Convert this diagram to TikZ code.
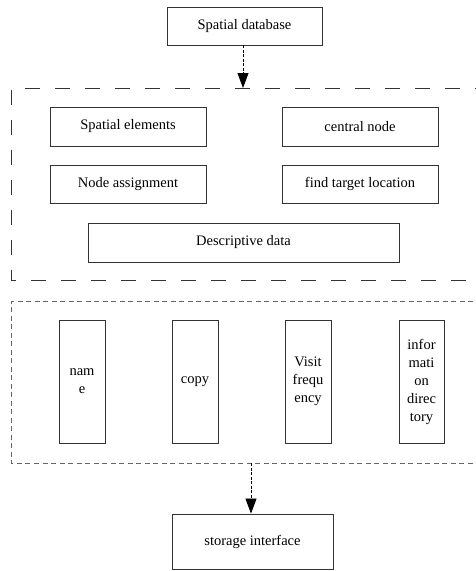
\documentclass[tikz,border=0pt]{standalone}
\usepackage{fontspec}
\setmainfont{Liberation Serif}
\usetikzlibrary{arrows.meta}
\begin{document}
\begin{tikzpicture}[x=1pt,y=-1pt,
  box/.style={draw=black!80,line width=0.9pt,fill=white,inner sep=0pt,font=\fontsize{14.5}{18}\selectfont,align=center},
  bigdash/.style={draw=black!80,line width=0.9pt,dash pattern=on 15pt off 15pt},
  smalldash/.style={draw=black!60,line width=0.9pt,dash pattern=on 5pt off 3.5pt},
  link/.style={draw=black,line width=0.8pt,dash pattern=on 3pt off 1.5pt,-{Triangle[length=15pt,width=11pt]}}
]
\useasboundingbox (0,0) rectangle (476,571);
% containers
\draw[bigdash] (490,88) -- (11.5,88) -- (11.5,280) -- (490,280);
\draw[smalldash] (490,301) -- (11.5,301) -- (11.5,463) -- (490,463);
\coordinate (c1top) at (243,88);
\coordinate (c2bot) at (251,463);
% top
\node[box,minimum width=155pt,minimum height=38pt] (db) at (244.5,26) {Spatial database};
\node[box,minimum width=156pt,minimum height=39pt] (se) at (128,126.5) {Spatial elements};
\node[box,minimum width=156pt,minimum height=39pt] (cn) at (360,126.5) {central node};
\node[box,minimum width=156pt,minimum height=38pt] (na) at (128,184) {Node assignment};
\node[box,minimum width=156pt,minimum height=38pt] (ft) at (360,184) {find target location};
\node[box,minimum width=311pt,minimum height=39pt] (dd) at (243.5,242.5) {Descriptive data};
% vertical boxes
\node[box,minimum width=46pt,minimum height=123pt] (nm) at (82,381.5) {nam\\e};
\node[box,minimum width=46pt,minimum height=123pt] (cp) at (195,381.5) {copy};
\node[box,minimum width=46pt,minimum height=123pt] (vf) at (308,381.5) {Visit\\frequ\\ency};
\node[box,minimum width=45pt,minimum height=123pt] (id) at (421.5,381.5) {infor\\mati\\on\\direc\\tory};
% bottom
\node[box,minimum width=161pt,minimum height=55pt] (si) at (252.5,541.5) {storage interface};
% arrows
\draw[link] (db.south -| c1top) -- (c1top);
\draw[link] (c2bot) -- (si.north -| c2bot);
\end{tikzpicture}
\end{document}
